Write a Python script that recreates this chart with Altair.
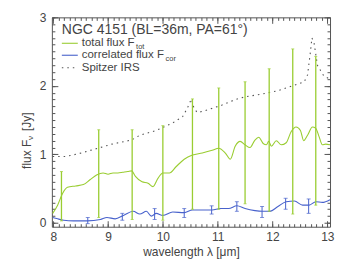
import altair as alt
import pandas as pd

# ---- data ----
lam_tot = [7.99, 8.08, 8.17, 8.26, 8.41, 8.55, 8.67, 8.79, 8.91, 9.00, 9.09, 9.18, 9.27, 9.36,
           9.43, 9.50, 9.62, 9.73, 9.82, 9.91, 10.00, 10.12, 10.24, 10.39, 10.54, 10.72, 10.90,
           11.02, 11.14, 11.23, 11.32, 11.41, 11.50, 11.59, 11.68, 11.75, 11.83, 11.89, 11.93,
           11.98, 12.07, 12.16, 12.25, 12.34, 12.43, 12.51, 12.57, 12.64, 12.73, 12.79, 12.85,
           12.91, 12.97, 13.05]
flux_tot = [0.14, 0.26, 0.43, 0.52, 0.54, 0.56, 0.63, 0.70, 0.73, 0.71, 0.73, 0.73, 0.74, 0.75,
            0.76, 0.68, 0.60, 0.58, 0.53, 0.65, 0.73, 0.73, 0.82, 0.93, 0.99, 1.02, 1.06,
            1.09, 1.02, 0.93, 1.12, 1.19, 1.14, 1.10, 1.21, 1.25, 1.16, 1.14, 1.19,
            1.12, 1.20, 1.14, 1.17, 1.33, 1.40, 1.35, 1.20, 1.28, 1.40, 1.38, 1.26,
            1.14, 1.15, 1.14]

lam_cor = [7.99, 8.08, 8.19, 8.37, 8.62, 8.86, 8.98, 9.13, 9.28, 9.46, 9.58, 9.70, 9.79, 9.88,
           10.00, 10.18, 10.39, 10.54, 10.72, 10.90, 11.05, 11.20, 11.35, 11.50, 11.68, 11.81,
           11.95, 12.10, 12.25, 12.40, 12.55, 12.67, 12.79, 12.91, 13.05]
flux_cor = [0.08, 0.06, 0.04, 0.03, 0.03, 0.05, 0.08, 0.06, 0.11, 0.17, 0.13, 0.17, 0.10, 0.14,
            0.11, 0.16, 0.15, 0.19, 0.19, 0.19, 0.21, 0.21, 0.25, 0.21, 0.18, 0.17,
            0.17, 0.24, 0.31, 0.32, 0.26, 0.26, 0.31, 0.30, 0.34]

lam_irs = [7.99, 8.23, 8.46, 8.77, 9.07, 9.43, 9.58, 9.88, 10.18, 10.36, 10.45, 10.52, 10.57,
           10.63, 10.78, 11.08, 11.32, 11.50, 11.80, 12.10, 12.40, 12.58, 12.64, 12.69, 12.72,
           12.76, 12.82, 12.94, 13.05]
flux_irs = [0.97, 0.97, 1.01, 1.08, 1.15, 1.21, 1.28, 1.35, 1.46, 1.55, 1.68, 1.81, 1.67,
            1.61, 1.64, 1.72, 1.80, 1.84, 1.88, 1.93, 2.01, 2.06, 2.16, 2.48, 2.70,
            2.62, 2.30, 2.14, 2.10]

eb_tot_lam = [8.15, 8.83, 9.44, 10.00, 10.54, 11.02, 11.50, 11.94, 12.37, 12.79]
eb_tot_lo = [0.03, 0.08, 0.05, 0.04, 0.20, 0.20, 0.28, 0.17, 0.13, 0.26]
eb_tot_hi = [0.75, 1.36, 1.36, 1.42, 1.81, 1.97, 2.06, 2.25, 2.54, 2.43]

eb_cor_lam = [8.63, 9.26, 9.85, 10.39, 10.89, 11.35, 11.81, 12.24, 12.66]
eb_cor_lo = [-0.01, 0.04, 0.05, 0.08, 0.13, 0.17, 0.08, 0.20, 0.14]
eb_cor_hi = [0.08, 0.14, 0.21, 0.21, 0.25, 0.31, 0.24, 0.36, 0.35]

x_major = [8, 9, 10, 11, 12, 13]
y_major = [0, 1, 2, 3]

GREEN = "#9acd32"
BLUE = "#4862cc"
GRAY = "#555555"
TXT = "#444444"
FONT = "Liberation Sans"

# ---- tables ----
df_tot = pd.DataFrame({"lam": lam_tot, "flux": flux_tot})
df_cor = pd.DataFrame({"lam": lam_cor, "flux": flux_cor})
df_irs = pd.DataFrame({"lam": lam_irs, "flux": flux_irs})
df_ebt = pd.DataFrame({"lam": eb_tot_lam, "lo": eb_tot_lo, "hi": eb_tot_hi})
df_ebc = pd.DataFrame({"lam": eb_cor_lam, "lo": eb_cor_lo, "hi": eb_cor_hi})
one = pd.DataFrame({"a": [0]})

xs = alt.Scale(domain=[7.975, 13.05], nice=False, zero=False)
ys = alt.Scale(domain=[-0.055, 3.0], nice=False, zero=False)

x_minor = [round(8 + 0.1 * i, 1) for i in range(51)]
y_minor = [round(0.1 * i, 1) for i in range(31)]

common = dict(domain=False, grid=False, tickColor=GRAY, labelColor=TXT,
              labelFont=FONT, labelFontSize=12, titleFont=FONT, titleFontSize=12,
              titleColor=TXT, titleFontWeight="normal")

ax_b = alt.Axis(orient="bottom", values=x_major, tickSize=6, offset=-6, labelPadding=5,
                title="wavelength λ [μm]", titlePadding=4, format="d", **common)
ax_bm = alt.Axis(orient="bottom", values=x_minor, tickSize=3, offset=-3, labels=False,
                 title="", **common)
ax_t = alt.Axis(orient="top", values=x_major, tickSize=6, offset=-6, labels=False,
                title="", **common)
ax_tm = alt.Axis(orient="top", values=x_minor, tickSize=3, offset=-3, labels=False,
                 title="", **common)

ay_l = alt.Axis(orient="left", values=y_major, tickSize=6, offset=-6, labelPadding=6,
                title="", format="d", **common)
ay_lm = alt.Axis(orient="left", values=y_minor, tickSize=3, offset=-3, labels=False,
                 title="", **common)
ay_r = alt.Axis(orient="right", values=y_major, tickSize=6, offset=-6, labels=False,
                title="", **common)
ay_rm = alt.Axis(orient="right", values=y_minor, tickSize=3, offset=-3, labels=False,
                 title="", **common)

green_line = alt.Chart(df_tot).mark_line(color=GREEN, strokeWidth=1.1, interpolate="monotone").encode(
    x=alt.X("lam:Q", scale=xs, axis=ax_b),
    y=alt.Y("flux:Q", scale=ys, axis=ay_l),
)
blue_line = alt.Chart(df_cor).mark_line(color=BLUE, strokeWidth=1.1, interpolate="monotone").encode(
    x=alt.X("lam:Q", scale=xs, axis=ax_bm),
    y=alt.Y("flux:Q", scale=ys, axis=ay_lm),
)
irs_line = alt.Chart(df_irs).mark_line(color=GRAY, strokeWidth=1.1, strokeDash=[1.5, 4]).encode(
    x=alt.X("lam:Q", scale=xs, axis=ax_t),
    y=alt.Y("flux:Q", scale=ys, axis=ay_r),
)
ebt_rule = alt.Chart(df_ebt).mark_rule(color=GREEN, strokeWidth=1.3).encode(
    x=alt.X("lam:Q", scale=xs, axis=ax_tm),
    y=alt.Y("lo:Q", scale=ys, axis=ay_rm),
    y2="hi:Q",
)
ebt_cap_lo = alt.Chart(df_ebt).mark_tick(color=GREEN, orient="horizontal", size=3, thickness=1).encode(
    x=alt.X("lam:Q", scale=xs, axis=None), y=alt.Y("lo:Q", scale=ys, axis=None))
ebt_cap_hi = alt.Chart(df_ebt).mark_tick(color=GREEN, orient="horizontal", size=3, thickness=1).encode(
    x=alt.X("lam:Q", scale=xs, axis=None), y=alt.Y("hi:Q", scale=ys, axis=None))
ebc_rule = alt.Chart(df_ebc).mark_rule(color=BLUE, strokeWidth=1).encode(
    x=alt.X("lam:Q", scale=xs, axis=None),
    y=alt.Y("lo:Q", scale=ys, axis=None),
    y2="hi:Q",
)
ebc_cap_lo = alt.Chart(df_ebc).mark_tick(color=BLUE, orient="horizontal", size=4, thickness=1).encode(
    x=alt.X("lam:Q", scale=xs, axis=None), y=alt.Y("lo:Q", scale=ys, axis=None))
ebc_cap_hi = alt.Chart(df_ebc).mark_tick(color=BLUE, orient="horizontal", size=4, thickness=1).encode(
    x=alt.X("lam:Q", scale=xs, axis=None), y=alt.Y("hi:Q", scale=ys, axis=None))


def txt(s, x, y, size=12, **kw):
    return alt.Chart(one).mark_text(text=s, font=FONT, fontSize=size, color=TXT,
                                    align="left", baseline="middle", **kw).encode(
        x=alt.value(x), y=alt.value(y))


def sample(y, color, dash=None):
    kw = dict(color=color, strokeWidth=1.1)
    if dash:
        kw["strokeDash"] = dash
    return alt.Chart(one).mark_rule(**kw).encode(
        x=alt.value(10), x2=alt.value(26), y=alt.value(y))


legend = [
    txt("NGC 4151 (BL=36m, PA=61°)", 10, 12.5, size=14),
    sample(26, GREEN), txt("total flux F", 30, 26, size=11.5), txt("tot", 84.5, 29.5, size=7.5),
    sample(38, BLUE), txt("correlated flux F", 30, 38, size=11.5), txt("cor", 114, 41.5, size=7.5),
    sample(50.5, GRAY, [1.5, 4]), txt("Spitzer IRS", 30, 50.5, size=11.5),
]

# rotated y-axis title "flux F_ν [Jy]"
ytitle = [
    txt("flux F", -25, 152, size=12, angle=270),
    txt("ν", -21, 123, size=8, angle=270),
    txt("[Jy]", -25, 114, size=12, angle=270),
]

chart = alt.layer(
    irs_line, green_line, blue_line, ebt_rule, ebt_cap_lo, ebt_cap_hi,
    ebc_rule, ebc_cap_lo, ebc_cap_hi, *legend, *ytitle
).resolve_axis(x="independent", y="independent").properties(
    width=279, height=210, autosize="none",
    padding={"left": 44, "top": 9, "right": 8, "bottom": 35},
).configure_view(stroke=GRAY, strokeWidth=1)

chart.save("out.html", embed_options={"renderer": "svg", "actions": False})
